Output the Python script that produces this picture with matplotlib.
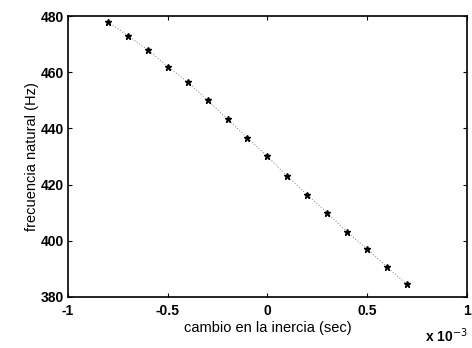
import matplotlib
matplotlib.use("Agg")
import matplotlib.pyplot as plt

# change in inertia (x 1e-3 s)
inertia_change = [-0.8, -0.7, -0.6, -0.5, -0.4, -0.3, -0.2, -0.1,
                  0.0, 0.1, 0.2, 0.3, 0.4, 0.5, 0.6, 0.7]
# natural frequency (Hz)
nat_freq = [478, 473, 468, 462, 456.5, 450, 443.3, 436.6,
            430, 423, 416.3, 410, 403, 397, 390.6, 384.5]

x_ticks = [-1, -0.5, 0, 0.5, 1]
x_tick_labels = ["-1", "-0.5", "0", "0.5", "1"]
y_ticks = [380, 400, 420, 440, 460, 480]

plt.rcParams['font.family'] = ['Liberation Sans', 'DejaVu Sans']

fig = plt.figure(figsize=(4.72, 3.48), dpi=100)
ax = fig.add_axes([0.144, 0.147, 0.845, 0.807])

ax.plot(inertia_change, nat_freq, linestyle=':', color='0.6', linewidth=0.8,
        marker='*', markersize=4.5, markerfacecolor='black', markeredgecolor='black')

ax.set_xlim(-1, 1)
ax.set_ylim(380, 480)
ax.set_xticks(x_ticks)
ax.set_xticklabels(x_tick_labels)
ax.set_yticks(y_ticks)
ax.tick_params(direction='in', length=3, width=0.8, labelsize=10, top=True, right=True)
ax.tick_params(axis='x', pad=5)
ax.tick_params(axis='y', pad=3)
for lbl in ax.get_xticklabels() + ax.get_yticklabels():
    lbl.set_fontweight('bold')
for sp in ax.spines.values():
    sp.set_linewidth(1.2)

ax.set_xlabel("cambio en la inercia (sec)", fontsize=10.5, labelpad=2)
ax.set_ylabel("frecuencia natural (Hz)", fontsize=10.5, labelpad=1)
fig.text(0.945, 0.01, r"x 10$^{-3}$", fontsize=10, ha='center', va='bottom', fontweight='bold')

fig.savefig("out.png", dpi=100)
